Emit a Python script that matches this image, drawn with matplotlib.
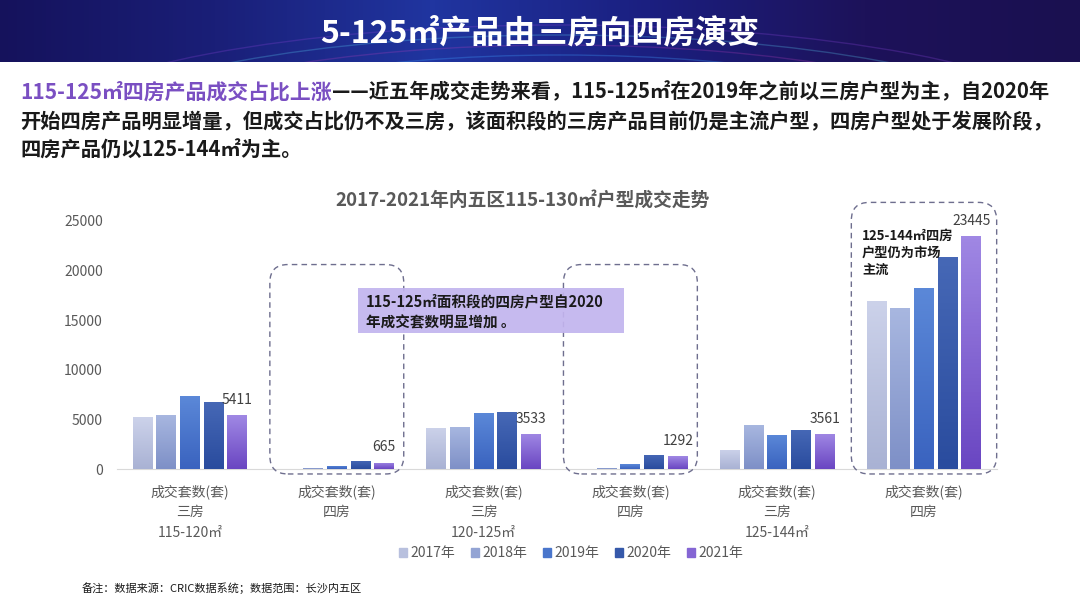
import numpy as np
import matplotlib
matplotlib.use('Agg')
import matplotlib.pyplot as plt
from matplotlib.patches import FancyBboxPatch, Rectangle, Arc
from matplotlib.colors import LinearSegmentedColormap
import matplotlib.transforms as mtransforms

plt.rcParams['font.family'] = ['Noto Sans CJK SC', 'DejaVu Sans']

# ---- dati ----
anni = ['2017年', '2018年', '2019年', '2020年', '2021年']
livello1 = ['成交套数(套)'] * 6
livello2 = ['三房', '四房', '三房', '四房', '三房', '四房']
livello3 = ['115-120㎡', '', '120-125㎡', '', '125-144㎡', '']
v2017 = [5210, 0, 4140, 0, 1950, 16965]
v2018 = [5510, 150, 4270, 150, 4470, 16220]
v2019 = [7330, 330, 5620, 486, 3430, 18200]
v2020 = [6790, 833, 5720, 1426, 3965, 21330]
v2021 = [5411, 665, 3533, 1292, 3561, 23445]
serie = [v2017, v2018, v2019, v2020, v2021]
yticks = [0, 5000, 10000, 15000, 20000, 25000]

colori = [('#ccd2ea', '#a9b2d4'),
          ('#a8b7e0', '#7e90c7'),
          ('#5b88d8', '#3a63bf'),
          ('#4668b6', '#2a4c9e'),
          ('#a088e4', '#6a46c2')]
colori_leg = ['#b8c0de', '#93a4d4', '#4a76cc', '#3659aa', '#8566d4']

W, H = 1080, 607
fig = plt.figure(figsize=(W / 100, H / 100), dpi=100)
fig.patch.set_facecolor('white')

def fx(px):
    return px / W

def fy(py):
    return 1 - py / H

# ---- banner ----
axb = fig.add_axes([0, fy(62), 1, 62 / H])
axb.set_xlim(0, W)
axb.set_ylim(62, 0)
axb.axis('off')
cmap_b = LinearSegmentedColormap.from_list('b', ['#15125c', '#1a1f78', '#2035a0', '#1b1f80', '#1d125a', '#1a1050'])
grad = np.linspace(0, 1, 256).reshape(1, -1)
axb.imshow(grad, cmap=cmap_b, extent=[0, W, 62, 0], aspect='auto')
for r, c, a in [(300, '#5fd0ff', 0.35), (340, '#a050e0', 0.35), (380, '#40a0ff', 0.3),
                (420, '#c040c0', 0.25), (460, '#60e0ff', 0.25), (500, '#8040d0', 0.3)]:
    axb.add_patch(Arc((560, 150), r * 2.2, r * 0.5, theta1=150, theta2=390,
                      color=c, alpha=a, lw=1.0))
axb.set_xlim(0, W)
axb.set_ylim(62, 0)
axb.text(540, 33, '5-125㎡产品由三房向四房演变', color='white', fontsize=23,
         fontweight='bold', ha='center', va='center')

# ---- testo introduttivo ----
t1 = fig.text(fx(20), fy(92), '115-125㎡四房产品成交占比上涨', color='#7a4fc2',
              fontsize=15, fontweight='bold', va='center')
fig.canvas.draw()
bb = t1.get_window_extent(fig.canvas.get_renderer())
fig.text(bb.x1 / W, fy(92), '——近五年成交走势来看，115-125㎡在2019年之前以三房户型为主，自2020年',
         color='#1a1a1a', fontsize=14.6, fontweight='bold', va='center')
fig.text(fx(20), fy(122), '开始四房产品明显增量，但成交占比仍不及三房，该面积段的三房产品目前仍是主流户型，四房户型处于发展阶段，',
         color='#1a1a1a', fontsize=14.6, fontweight='bold', va='center')
fig.text(fx(20), fy(150), '四房产品仍以125-144㎡为主。',
         color='#1a1a1a', fontsize=14.6, fontweight='bold', va='center')

# ---- grafico ----
ax = fig.add_axes([fx(116.6), fy(469.3), fx(997.4) - fx(116.6), fy(220.7) - fy(469.3)])
x = np.arange(len(livello2))
passo = 0.1614
larg = 0.136
for i, (vals, (ctop, cbot)) in enumerate(zip(serie, colori)):
    pos = x + (i - 2) * passo
    barre = ax.bar(pos, vals, width=larg, color=cbot, zorder=2)
    cm = LinearSegmentedColormap.from_list('c%d' % i, [cbot, ctop])
    for b in barre:
        h = b.get_height()
        if h <= 0:
            continue
        im = ax.imshow(np.linspace(0, 1, 64).reshape(-1, 1), cmap=cm, origin='lower',
                       extent=[b.get_x(), b.get_x() + b.get_width(), 0, h],
                       aspect='auto', zorder=3)
        im.set_clip_path(b)

for xi, v in zip(x + 2 * passo, v2021):
    ax.annotate(str(v), (xi, v), xytext=(0, 6), textcoords='offset points',
                ha='center', va='bottom', fontsize=10, color='#404040', zorder=5)

ax.set_xlim(-0.5, 5.5)
ax.set_ylim(0, 25000)
ax.set_yticks(yticks)
ax.set_yticklabels([str(t) for t in yticks], fontsize=10, color='#595959')
ax.tick_params(axis='y', length=0, pad=10)
ax.set_xticks([])
for s in ['top', 'right', 'left']:
    ax.spines[s].set_visible(False)
ax.spines['bottom'].set_color('#d9d9d9')
ax.set_facecolor('none')

tr = mtransforms.blended_transform_factory(ax.transData, fig.transFigure)
for xi, a, b, c in zip(x, livello1, livello2, livello3):
    fig.text(xi, fy(492), a, transform=tr, ha='center', va='center', fontsize=10, color='#595959')
    fig.text(xi, fy(512), b, transform=tr, ha='center', va='center', fontsize=10, color='#595959')
    if c:
        fig.text(xi, fy(533), c, transform=tr, ha='center', va='center', fontsize=10, color='#595959')

fig.text(fx(523), fy(200), '2017-2021年内五区115-130㎡户型成交走势', ha='center', va='center',
         fontsize=13.5, fontweight='bold', color='#595959')

# ---- legenda ----
maniglie = [Rectangle((0, 0), 1, 1, color=c) for c in colori_leg]
fig.legend(maniglie, anni, loc='center', bbox_to_anchor=(fx(571), fy(553)), ncol=5,
           frameon=False, fontsize=10, handlelength=0.6, handleheight=0.6,
           handletextpad=0.25, columnspacing=1.1, labelcolor='#595959')

# ---- riquadri tratteggiati ----
def riquadro(gx, mezzo, ytop, ybot=-470):
    x0, y0 = ax.transData.transform((gx - mezzo, ybot))
    x1, y1 = ax.transData.transform((gx + mezzo, ytop))
    p = FancyBboxPatch((x0 + 18, y0 + 18), (x1 - x0) - 36, (y1 - y0) - 36,
                       boxstyle='round,pad=18', transform=mtransforms.IdentityTransform(),
                       fill=False, edgecolor='#6e6e8e', lw=1.0, linestyle=(0, (4, 3)), zorder=6)
    fig.add_artist(p)

riquadro(1, 0.456, 20590)
riquadro(3, 0.456, 20590)
riquadro(5, 0.495, 26840)

# ---- note ----
fig.add_artist(Rectangle((fx(358), fy(333)), fx(624) - fx(358), fy(288) - fy(333),
                         transform=fig.transFigure, facecolor='#c2b4ee', edgecolor='none',
                         alpha=0.92, zorder=7))
fig.text(fx(366), fy(301), '115-125㎡面积段的四房户型自2020', fontsize=10.5, fontweight='bold',
         color='#1a1a1a', va='center', zorder=8)
fig.text(fx(366), fy(322), '年成交套数明显增加 。', fontsize=10.5, fontweight='bold',
         color='#1a1a1a', va='center', zorder=8)
fig.text(fx(862), fy(253), '125-144㎡四房\n户型仍为市场\n主流', fontsize=9.5, fontweight='bold',
         color='#1a1a1a', va='center', linespacing=1.25, zorder=8)

fig.text(fx(82), fy(588), '备注：数据来源：CRIC数据系统；数据范围：长沙内五区', fontsize=8,
         color='#1a1a1a', va='center')

fig.savefig('out.png', dpi=100)
